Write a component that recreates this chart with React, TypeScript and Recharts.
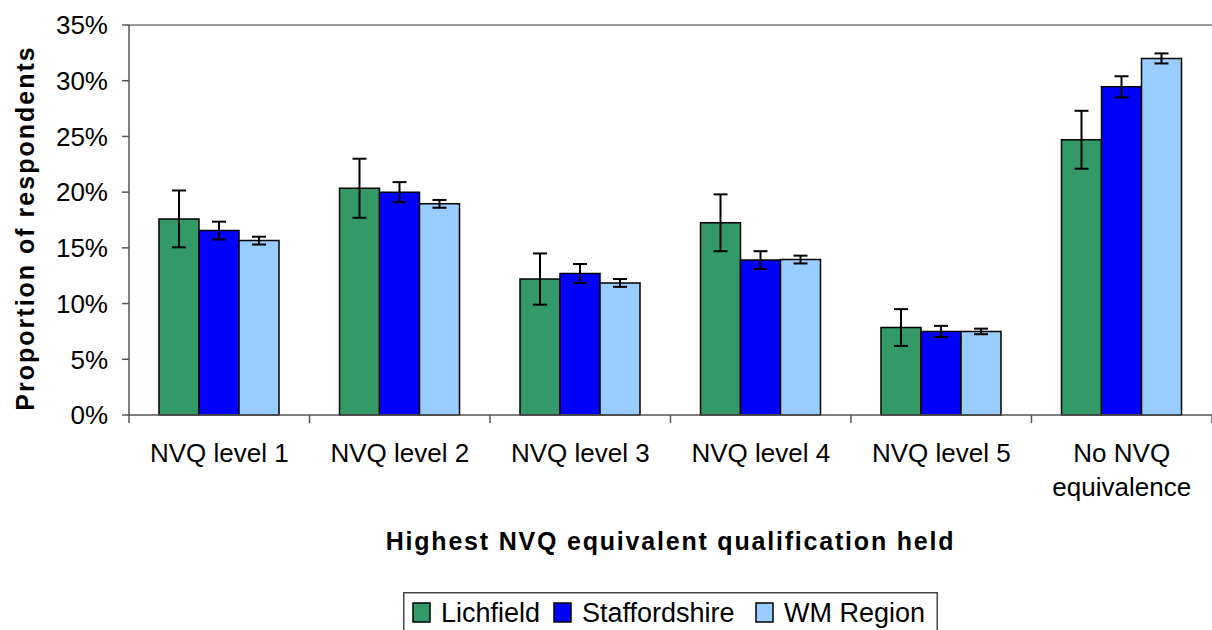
import React from 'react';
import { BarChart, Bar, XAxis, YAxis, ErrorBar, ReferenceLine, Legend, Label } from 'recharts';

const categories = ['NVQ level 1', 'NVQ level 2', 'NVQ level 3', 'NVQ level 4', 'NVQ level 5', 'No NVQ\nequivalence'];
const lichfield = [17.6, 20.35, 12.2, 17.25, 7.85, 24.7];
const lichfieldErr = [2.55, 2.65, 2.3, 2.55, 1.65, 2.6];
const staffordshire = [16.55, 20.0, 12.7, 13.9, 7.5, 29.45];
const staffordshireErr = [0.8, 0.9, 0.85, 0.8, 0.5, 0.95];
const wmRegion = [15.65, 18.95, 11.85, 13.95, 7.5, 32.0];
const wmRegionErr = [0.35, 0.35, 0.35, 0.35, 0.25, 0.45];
const yTicks = [0, 5, 10, 15, 20, 25, 30, 35];
const seriesNames = ['Lichfield', 'Staffordshire', 'WM Region'];
const seriesColors = ['#339966', '#0000FF', '#99CCFF'];

const data = categories.map((c, i) => ({
  cat: c,
  l: lichfield[i],
  lErr: lichfieldErr[i],
  s: staffordshire[i],
  sErr: staffordshireErr[i],
  w: wmRegion[i],
  wErr: wmRegionErr[i],
}));

const W = 1212;
const H = 630;
const PLOT_LEFT = 129;
const BAND = (W - PLOT_LEFT) / categories.length;
const AXIS = '#555';
const FONT = '"Liberation Sans", Arial, sans-serif';

const CatTick = (props: any) => {
  const { x, y, payload, index } = props;
  const lines = String(payload.value).split('\n');
  const half = BAND / 2;
  return (
    <g>
      <line x1={x - half} x2={x - half} y1={y} y2={y + 8} stroke={AXIS} strokeWidth={1.5} />
      {index === categories.length - 1 && (
        <line x1={x + half} x2={x + half} y1={y} y2={y + 8} stroke={AXIS} strokeWidth={1.5} />
      )}
      <text x={x} y={y + 47} textAnchor="middle" fontSize={26} fontFamily={FONT} fill="#000">
        {lines.map((l, i) => (
          <tspan key={i} x={x} dy={i === 0 ? 0 : 34}>
            {l}
          </tspan>
        ))}
      </text>
    </g>
  );
};

const LegendBox = () => {
  const squares = [10, 151, 353];
  return (
    <svg width={535} height={50} style={{ display: 'block' }}>
      <rect x={0.75} y={0.75} width={533.5} height={60} fill="#fff" stroke="#444" strokeWidth={1.5} />
      {seriesNames.map((n, i) => (
        <g key={n}>
          <rect x={squares[i]} y={11} width={17} height={19} fill={seriesColors[i]} stroke="#000" strokeWidth={1.5} />
          <text x={squares[i] + 28} y={30} fontSize={27} fontFamily={FONT} fill="#000">
            {n}
          </text>
        </g>
      ))}
    </svg>
  );
};

export default function App() {
  return (
    <div style={{ position: 'absolute', left: 0, top: 0, width: W, height: H, overflow: 'hidden', background: '#fff' }}>
      <BarChart
        width={W}
        height={H}
        data={data}
        margin={{ top: 25, right: 0, left: 0, bottom: 0 }}
        barCategoryGap={30}
        barGap={0}
      >
        <XAxis
          dataKey="cat"
          height={215}
          interval={0}
          tickLine={false}
          tickSize={0}
          tickMargin={0}
          axisLine={{ stroke: AXIS, strokeWidth: 1.5 }}
          tick={<CatTick />}
        >
          <Label
            content={(p: any) => {
              const vb = p.viewBox || {};
              return (
                <text
                  x={vb.x + vb.width / 2}
                  y={vb.y + 135}
                  textAnchor="middle"
                  fontSize={25}
                  fontWeight="bold"
                  letterSpacing={1.8}
                  fontFamily={FONT}
                  fill="#000"
                >
                  Highest NVQ equivalent qualification held
                </text>
              );
            }}
          />
        </XAxis>
        <YAxis
          width={PLOT_LEFT}
          domain={[0, 35]}
          ticks={yTicks}
          interval={0}
          tickFormatter={(v: number) => `${v}%`}
          tick={{ fontSize: 26, fill: '#000', fontFamily: FONT }}
          tickSize={7}
          tickMargin={14}
          tickLine={{ stroke: AXIS, strokeWidth: 1.5 }}
          axisLine={{ stroke: AXIS, strokeWidth: 1.5 }}
        >
          <Label
            content={(p: any) => {
              const vb = p.viewBox || {};
              const cx = 25;
              const cy = vb.y + vb.height / 2 + 8;
              return (
                <text
                  x={cx}
                  y={cy}
                  textAnchor="middle"
                  dominantBaseline="central"
                  fontSize={25}
                  fontWeight="bold"
                  letterSpacing={2}
                  fontFamily={FONT}
                  fill="#000"
                  transform={`rotate(-90, ${cx}, ${cy})`}
                >
                  Proportion of respondents
                </text>
              );
            }}
          />
        </YAxis>
        <ReferenceLine y={35} stroke="#999" strokeWidth={2} />
        <Legend
          layout="horizontal"
          verticalAlign="middle"
          align="center"
          wrapperStyle={{ top: 592, left: 403, width: 535, height: 50 }}
          content={() => <LegendBox />}
        />
        <Bar dataKey="l" name={seriesNames[0]} fill={seriesColors[0]} stroke="#000" strokeWidth={1.5} isAnimationActive={false}>
          <ErrorBar dataKey="lErr" width={7} stroke="#000" strokeWidth={2} direction="y" />
        </Bar>
        <Bar dataKey="s" name={seriesNames[1]} fill={seriesColors[1]} stroke="#000" strokeWidth={1.5} isAnimationActive={false}>
          <ErrorBar dataKey="sErr" width={7} stroke="#000" strokeWidth={2} direction="y" />
        </Bar>
        <Bar dataKey="w" name={seriesNames[2]} fill={seriesColors[2]} stroke="#000" strokeWidth={1.5} isAnimationActive={false}>
          <ErrorBar dataKey="wErr" width={7} stroke="#000" strokeWidth={2} direction="y" />
        </Bar>
      </BarChart>
    </div>
  );
}
